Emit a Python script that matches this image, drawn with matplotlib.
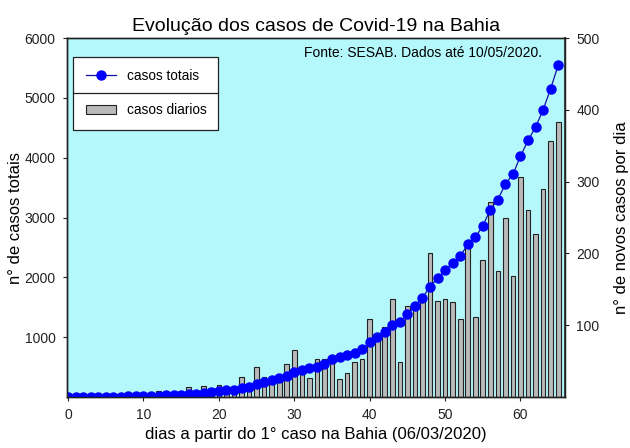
import matplotlib
matplotlib.use("Agg")
import matplotlib.pyplot as plt
from matplotlib.lines import Line2D
from matplotlib.patches import Patch

plt.rcParams['font.family'] = ['Liberation Sans', 'DejaVu Sans']

days = list(range(66))
casos_diarios = [1, 0, 0, 0, 0, 1, 0, 6, 1, 0,
                 2, 5, 8, 4, 3, 3, 14, 7, 16, 12,
                 17, 14, 5, 28, 19, 42, 28, 19, 22, 46,
                 65, 35, 26, 53, 53, 47, 25, 34, 49, 53,
                 109, 83, 97, 136, 49, 127, 126, 132, 200, 134,
                 136, 132, 108, 209, 112, 191, 272, 176, 250, 168,
                 306, 261, 227, 290, 356, 383]
casos_totais = [1, 1, 1, 1, 1, 2, 2, 8, 9, 9,
                11, 16, 24, 28, 31, 34, 48, 55, 71, 83,
                100, 114, 119, 147, 170, 212, 250, 280, 315, 345,
                410, 450, 478, 510, 560, 640, 665, 700, 740, 795,
                920, 995, 1090, 1200, 1250, 1380, 1520, 1660, 1845, 1985,
                2117, 2245, 2350, 2555, 2667, 2861, 3133, 3300, 3561, 3722,
                4028, 4288, 4512, 4800, 5155, 5545]

left_ticks = [1000, 2000, 3000, 4000, 5000, 6000]
right_ticks = [100, 200, 300, 400, 500]
x_ticks = [0, 10, 20, 30, 40, 50, 60]

fig = plt.figure(figsize=(6.3, 4.48), dpi=100)
ax = fig.add_axes([0.1063, 0.1138, 0.7905, 0.8012])
ax2 = ax.twinx()

# bars on ax2 (behind), line on ax (front)
ax.set_zorder(ax2.get_zorder() + 1)
ax.patch.set_visible(False)
ax2.patch.set_visible(True)
ax2.set_facecolor('#B5F8FB')

ax2.bar(days, casos_diarios, width=0.62, color='#BABABA', edgecolor='#222222', linewidth=0.8)
ax.plot(days, casos_totais, color='#1010A0', linewidth=0.9, marker='o',
        markersize=6.5, markerfacecolor='#0000FF', markeredgecolor='#0000FF', clip_on=True)

ax.set_xlim(-0.15, 65.9)
ax.set_ylim(0, 6000)
ax2.set_ylim(0, 500)
ax.set_xticks(x_ticks)
ax.set_yticks(left_ticks)
ax2.set_yticks(right_ticks)

for a in (ax, ax2):
    a.tick_params(direction='out', length=3.2, width=0.8, labelsize=10, pad=5,
                  colors='#222222')
    for s in a.spines.values():
        s.set_color('#222222')
        s.set_linewidth(1.0)
ax2.spines['right'].set_color('#3C5050')
ax2.spines['right'].set_linewidth(1.5)

ax.set_title('Evolução dos casos de Covid-19 na Bahia', fontsize=14, pad=5)
ax.set_xlabel('dias a partir do 1° caso na Bahia (06/03/2020)', fontsize=12, labelpad=3)
ax.set_ylabel('n° de casos totais', fontsize=12, labelpad=1)
ax2.set_ylabel('n° de novos casos por dia', fontsize=12, labelpad=10)

ax.text(0.954, 0.958, 'Fonte: SESAB. Dados até 10/05/2020.', transform=ax.transAxes,
        ha='right', va='center', fontsize=10)

handles = [Line2D([0], [0], color='#1010A0', lw=0.9, marker='o', markersize=6.5,
                  markerfacecolor='#0000FF', markeredgecolor='#0000FF'),
           Patch(facecolor='#BABABA', edgecolor='#222222', linewidth=0.8)]
leg = ax.legend(handles, ['casos totais', 'casos diarios'], loc='upper left',
                bbox_to_anchor=(0.013, 0.948, 0.29, 0.0), mode='expand',
                fontsize=9.8, frameon=True, fancybox=False, edgecolor='#222222',
                framealpha=1, facecolor='white', borderpad=0.9, labelspacing=1.5,
                handlelength=2.2, handletextpad=0.8, borderaxespad=0)
leg.get_frame().set_linewidth(0.9)

fig.canvas.draw()
bb = leg.get_window_extent().transformed(fig.transFigure.inverted())
ymid = (bb.y0 + bb.y1) / 2
fig.add_artist(Line2D([bb.x0, bb.x1], [ymid, ymid], transform=fig.transFigure,
                      color='#222222', lw=0.9, zorder=10))

fig.savefig('out.png', dpi=100)
